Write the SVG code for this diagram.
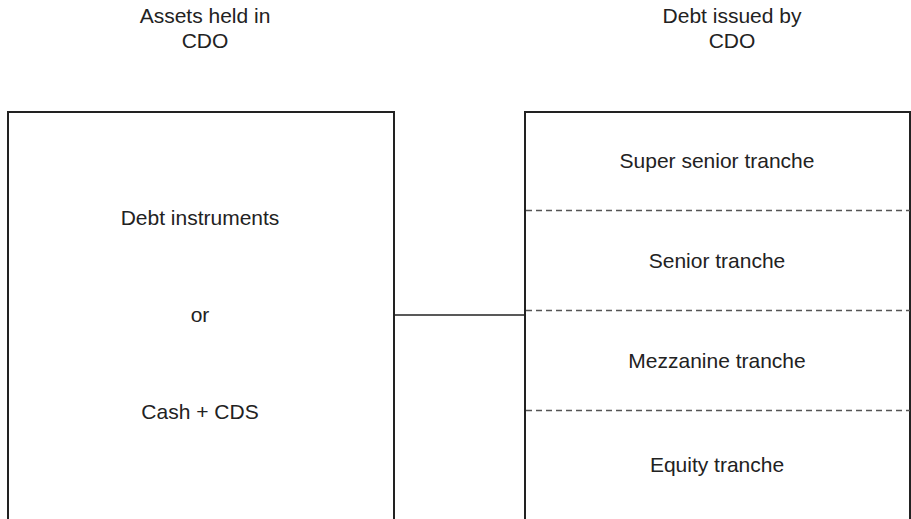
<svg xmlns="http://www.w3.org/2000/svg" width="911" height="519" viewBox="0 0 911 519">
<style>
text{font-family:"Liberation Sans",Arial,sans-serif;font-size:21px;fill:#222;text-anchor:middle}
.box{fill:none;stroke:#222;stroke-width:2}
.sep{stroke:#555;stroke-width:1.3;stroke-dasharray:6,4}
.conn{stroke:#222;stroke-width:1.3;fill:none}
</style>
<rect width="911" height="519" fill="#fff"/>
<g id="title-assets"><text x="205" y="23">Assets held in</text><text x="205" y="48">CDO</text></g>
<g id="title-debt"><text x="732" y="23">Debt issued by</text><text x="732" y="48">CDO</text></g>
<g id="assets">
<rect class="box" x="8" y="112" width="386" height="420"/>
<text x="200" y="225">Debt instruments</text>
<text x="200" y="322">or</text>
<text x="200" y="419">Cash + CDS</text>
</g>
<g id="tranches">
<rect class="box" x="525" y="112" width="385" height="420"/>
<line class="sep" x1="526" y1="210.5" x2="910" y2="210.5"/>
<line class="sep" x1="526" y1="310.5" x2="910" y2="310.5"/>
<line class="sep" x1="526" y1="410.5" x2="910" y2="410.5"/>
<text x="717" y="168">Super senior tranche</text>
<text x="717" y="268">Senior tranche</text>
<text x="717" y="368">Mezzanine tranche</text>
<text x="717" y="472">Equity tranche</text>
</g>
<g id="connectors">
<line class="conn" x1="394" y1="315" x2="525" y2="315"/>
</g>
</svg>
